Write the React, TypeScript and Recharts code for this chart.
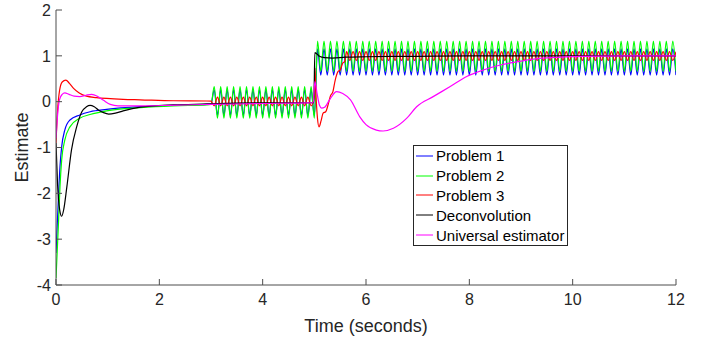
import { Legend, Line, LineChart, XAxis, YAxis } from 'recharts';

const xTicks = [0, 2, 4, 6, 8, 10, 12];
const yTicks = [-4, -3, -2, -1, 0, 1, 2];

const seriesNames = ['Problem 1', 'Problem 2', 'Problem 3', 'Deconvolution', 'Universal estimator'];
const seriesColors = ['#0000ff', '#00ff00', '#ff0000', '#000000', '#ff00ff'];

// start-up transient of Problem 1 / Problem 2 (t in seconds)
const earlyT = [0, 0.045, 0.077, 0.11, 0.17, 0.27, 0.46, 0.66, 0.98, 1.63, 2.27, 2.92, 3.0];
const problem1Early = [-3.3, -2.15, -1.42, -0.98, -0.62, -0.4, -0.29, -0.22, -0.17, -0.11, -0.08, -0.06, -0.05];
const problem2Early = [-3.85, -2.73, -1.86, -1.27, -0.84, -0.55, -0.36, -0.28, -0.2, -0.13, -0.09, -0.07, -0.06];

// peaks / troughs of the 8 Hz ripple, read every half period
const oscT = [
  3.0625, 3.125, 3.1875, 3.25, 3.3125, 3.375, 3.4375, 3.5, 3.5625, 3.625, 3.6875, 3.75, 3.8125, 3.875, 3.9375, 4,
  4.0625, 4.125, 4.1875, 4.25, 4.3125, 4.375, 4.4375, 4.5, 4.5625, 4.625, 4.6875, 4.75, 4.8125, 4.875, 4.9375, 5,
  5.0625, 5.125, 5.1875, 5.25, 5.3125, 5.375, 5.4375, 5.5, 5.5625, 5.625, 5.6875, 5.75, 5.8125, 5.875, 5.9375, 6,
  6.0625, 6.125, 6.1875, 6.25, 6.3125, 6.375, 6.4375, 6.5, 6.5625, 6.625, 6.6875, 6.75, 6.8125, 6.875, 6.9375, 7,
  7.0625, 7.125, 7.1875, 7.25, 7.3125, 7.375, 7.4375, 7.5, 7.5625, 7.625, 7.6875, 7.75, 7.8125, 7.875, 7.9375, 8,
  8.0625, 8.125, 8.1875, 8.25, 8.3125, 8.375, 8.4375, 8.5, 8.5625, 8.625, 8.6875, 8.75, 8.8125, 8.875, 8.9375, 9,
  9.0625, 9.125, 9.1875, 9.25, 9.3125, 9.375, 9.4375, 9.5, 9.5625, 9.625, 9.6875, 9.75, 9.8125, 9.875, 9.9375, 10,
  10.0625, 10.125, 10.1875, 10.25, 10.3125, 10.375, 10.4375, 10.5, 10.5625, 10.625, 10.6875, 10.75, 10.8125, 10.875, 10.9375, 11,
  11.0625, 11.125, 11.1875, 11.25, 11.3125, 11.375, 11.4375, 11.5, 11.5625, 11.625, 11.6875, 11.75, 11.8125, 11.875, 11.9375, 12,
];

const problem1Osc = [
  0.26, -0.3, 0.26, -0.3, 0.26, -0.3, 0.26, -0.3, 0.26, -0.3, 0.26, -0.3, 0.26, -0.3, 0.26, -0.3,
  0.26, -0.3, 0.26, -0.3, 0.26, -0.3, 0.26, -0.3, 0.26, -0.3, 0.26, -0.3, 0.26, -0.3, 0.26, -0.3,
  1.15, 0.58, 1.15, 0.58, 1.15, 0.58, 1.15, 0.58, 1.15, 0.58, 1.15, 0.58, 1.15, 0.58, 1.15, 0.58,
  1.15, 0.58, 1.15, 0.58, 1.15, 0.58, 1.15, 0.58, 1.15, 0.58, 1.15, 0.58, 1.15, 0.58, 1.15, 0.58,
  1.15, 0.58, 1.15, 0.58, 1.15, 0.58, 1.15, 0.58, 1.15, 0.58, 1.15, 0.58, 1.15, 0.58, 1.15, 0.58,
  1.15, 0.58, 1.15, 0.58, 1.15, 0.58, 1.15, 0.58, 1.15, 0.58, 1.15, 0.58, 1.15, 0.58, 1.15, 0.58,
  1.15, 0.58, 1.15, 0.58, 1.15, 0.58, 1.15, 0.58, 1.15, 0.58, 1.15, 0.58, 1.15, 0.58, 1.15, 0.58,
  1.15, 0.58, 1.15, 0.58, 1.15, 0.58, 1.15, 0.58, 1.15, 0.58, 1.15, 0.58, 1.15, 0.58, 1.15, 0.58,
  1.15, 0.58, 1.15, 0.58, 1.15, 0.58, 1.15, 0.58, 1.15, 0.58, 1.15, 0.58, 1.15, 0.58, 1.15, 0.58,
];

const problem2Osc = [
  0.33, -0.36, 0.33, -0.36, 0.33, -0.36, 0.33, -0.36, 0.33, -0.36, 0.33, -0.36, 0.33, -0.36, 0.33, -0.36,
  0.33, -0.36, 0.33, -0.36, 0.33, -0.36, 0.33, -0.36, 0.33, -0.36, 0.33, -0.36, 0.33, -0.36, 0.33, -0.36,
  1.32, 0.66, 1.32, 0.66, 1.32, 0.66, 1.32, 0.66, 1.32, 0.66, 1.32, 0.66, 1.32, 0.66, 1.32, 0.66,
  1.32, 0.66, 1.32, 0.66, 1.32, 0.66, 1.32, 0.66, 1.32, 0.66, 1.32, 0.66, 1.32, 0.66, 1.32, 0.66,
  1.32, 0.66, 1.32, 0.66, 1.32, 0.66, 1.32, 0.66, 1.32, 0.66, 1.32, 0.66, 1.32, 0.66, 1.32, 0.66,
  1.32, 0.66, 1.32, 0.66, 1.32, 0.66, 1.32, 0.66, 1.32, 0.66, 1.32, 0.66, 1.32, 0.66, 1.32, 0.66,
  1.32, 0.66, 1.32, 0.66, 1.32, 0.66, 1.32, 0.66, 1.32, 0.66, 1.32, 0.66, 1.32, 0.66, 1.32, 0.66,
  1.32, 0.66, 1.32, 0.66, 1.32, 0.66, 1.32, 0.66, 1.32, 0.66, 1.32, 0.66, 1.32, 0.66, 1.32, 0.66,
  1.32, 0.66, 1.32, 0.66, 1.32, 0.66, 1.32, 0.66, 1.32, 0.66, 1.32, 0.66, 1.32, 0.66, 1.32, 0.66,
];

// Problem 3
const problem3EarlyT = [0, 0.03, 0.07, 0.12, 0.19, 0.26, 0.34, 0.45, 0.59, 0.78, 0.98, 1.3, 1.63, 2.27, 2.92, 3.0];
const problem3Early = [-0.9, -0.2, 0.25, 0.43, 0.47, 0.4, 0.29, 0.19, 0.12, 0.09, 0.07, 0.05, 0.04, 0.02, 0.015, 0.01];
// ripple between 3 s and 5 s (oscT 3.0625 .. 5)
const problem3Osc1 = [
  -0.09, 0.1, -0.09, 0.1, -0.09, 0.1, -0.09, 0.1, -0.09, 0.1, -0.09, 0.1, -0.09, 0.1, -0.09, 0.1,
  -0.09, 0.1, -0.09, 0.1, -0.09, 0.1, -0.09, 0.1, -0.09, 0.1, -0.09, 0.1, -0.09, 0.1, -0.09, 0.1,
];
const problem3StepT = [5.012, 5.03, 5.06, 5.09, 5.13, 5.17, 5.22, 5.27, 5.31, 5.36, 5.4, 5.46, 5.5, 5.55, 5.59];
const problem3Step = [0.73, 0.2, -0.35, -0.55, -0.42, -0.25, -0.22, -0.05, 0.12, 0.22, 0.45, 0.66, 0.69, 0.84, 0.88];
// ripple from 5.625 s to the end (oscT 5.625 .. 12)
const problem3Osc2 = [
  1.09, 0.9, 1.09, 0.9, 1.09, 0.9, 1.09,
  0.9, 1.09, 0.9, 1.09, 0.9, 1.09, 0.9, 1.09, 0.9, 1.09, 0.9, 1.09, 0.9, 1.09, 0.9, 1.09,
  0.9, 1.09, 0.9, 1.09, 0.9, 1.09, 0.9, 1.09, 0.9, 1.09, 0.9, 1.09, 0.9, 1.09, 0.9, 1.09,
  0.9, 1.09, 0.9, 1.09, 0.9, 1.09, 0.9, 1.09, 0.9, 1.09, 0.9, 1.09, 0.9, 1.09, 0.9, 1.09,
  0.9, 1.09, 0.9, 1.09, 0.9, 1.09, 0.9, 1.09, 0.9, 1.09, 0.9, 1.09, 0.9, 1.09, 0.9, 1.09,
  0.9, 1.09, 0.9, 1.09, 0.9, 1.09, 0.9, 1.09, 0.9, 1.09, 0.9, 1.09, 0.9, 1.09, 0.9, 1.09,
  0.9, 1.09, 0.9, 1.09, 0.9, 1.09, 0.9, 1.09, 0.9, 1.09, 0.9, 1.09, 0.9, 1.09, 0.9, 1.09,
];

// Deconvolution
const deconvT = [
  0, 0.03, 0.07, 0.11, 0.15, 0.21, 0.3, 0.4, 0.5, 0.59, 0.66, 0.74, 0.82, 0.92, 1.02, 1.15,
  1.3, 1.63, 2.27, 2.92, 3.5, 4.99, 5.01, 5.05, 5.1, 5.2, 5.35, 5.6, 6, 7, 8, 12,
];
const deconvV = [
  -0.9, -1.8, -2.35, -2.5, -2.35, -1.86, -1.05, -0.55, -0.22, -0.11, -0.08, -0.11, -0.18, -0.24, -0.27, -0.25,
  -0.2, -0.12, -0.07, -0.05, -0.03, -0.02, 1.07, 1.04, 0.99, 0.96, 0.95, 0.97, 0.98, 0.99, 1.0, 1.0,
];

// Universal estimator
const universalT = [
  0, 0.03, 0.07, 0.12, 0.17, 0.25, 0.35, 0.46, 0.58, 0.69, 0.8, 0.92, 1.05, 1.2, 1.6, 2.2,
  3.0, 4.0, 4.98, 5.01, 5.05, 5.1, 5.14, 5.2, 5.3, 5.43, 5.55, 5.7, 5.88, 6.0, 6.2, 6.33,
  6.53, 6.79, 6.98, 7.3, 7.63, 7.95, 8.27, 8.6, 8.92, 9.24, 9.56, 10.2, 11, 12,
];
const universalV = [
  -0.8, -0.3, 0.05, 0.16, 0.19, 0.16, 0.12, 0.11, 0.14, 0.16, 0.12, 0.03, -0.06, -0.09, -0.09, -0.08,
  -0.06, -0.04, -0.02, 0.44, 0.2, -0.08, -0.14, -0.12, 0.05, 0.22, 0.18, 0.04, -0.33, -0.5, -0.62, -0.64,
  -0.58, -0.36, -0.11, 0.11, 0.33, 0.55, 0.69, 0.8, 0.87, 0.93, 0.96, 0.99, 1.0, 1.0,
];

const toPoints = (ts: number[], vs: number[]) => ts.map((t, i) => ({ t, v: vs[i] }));

const problem1Data = [...toPoints(earlyT, problem1Early), ...toPoints(oscT, problem1Osc)];
const problem2Data = [...toPoints(earlyT, problem2Early), ...toPoints(oscT, problem2Osc)];
const problem3Data = [
  ...toPoints(problem3EarlyT, problem3Early),
  ...toPoints(oscT.slice(0, 32), problem3Osc1),
  ...toPoints(problem3StepT, problem3Step),
  ...toPoints(oscT.slice(41), problem3Osc2),
];
const deconvData = toPoints(deconvT, deconvV);
const universalData = toPoints(universalT, universalV);

const allSeries = [problem1Data, problem2Data, problem3Data, deconvData, universalData];

const font = '"Liberation Sans", Arial, sans-serif';
const axisColor = '#4d4d4d';

const LegendBox = () => (
  <div
    style={{
      border: '1px solid #262626',
      background: '#fff',
      width: 153,
      fontFamily: font,
      fontSize: 15,
      color: '#000',
    }}
  >
    {seriesNames.map((name, i) => (
      <div key={name} style={{ display: 'flex', alignItems: 'center', height: 19.8 }}>
        <svg width={22} height={10} style={{ flex: 'none' }}>
          <line x1={2} x2={19} y1={5} y2={5} stroke={seriesColors[i]} strokeWidth={1} />
        </svg>
        <span style={{ whiteSpace: 'nowrap', lineHeight: '19px' }}>{name}</span>
      </div>
    ))}
  </div>
);

export default function App() {
  return (
    <div style={{ position: 'absolute', left: 0, top: 0, background: '#fff' }}>
      <LineChart
        width={710}
        height={343}
        margin={{ top: 10, right: 34, bottom: 0, left: 0 }}
        style={{ fontFamily: font }}
      >
        <XAxis
          dataKey='t'
          type='number'
          domain={[0, 12]}
          ticks={xTicks}
          allowDataOverflow
          height={58}
          tickSize={-6}
          tickMargin={15}
          stroke={axisColor}
          tick={{ fill: '#262626', fontSize: 16 }}
          label={{ value: 'Time (seconds)', position: 'insideBottom', offset: 11, fill: '#262626', fontSize: 18 }}
        />
        <XAxis
          xAxisId='top'
          orientation='top'
          type='number'
          domain={[0, 12]}
          ticks={xTicks}
          allowDataOverflow
          height={0}
          tickSize={-6}
          stroke={axisColor}
          tick={false}
        />
        <YAxis
          type='number'
          domain={[-4, 2]}
          ticks={yTicks}
          allowDataOverflow
          width={56}
          tickSize={-6}
          tickMargin={11}
          stroke={axisColor}
          tick={{ fill: '#262626', fontSize: 16 }}
          label={{
            value: 'Estimate',
            angle: -90,
            position: 'insideLeft',
            offset: 22,
            fill: '#262626',
            fontSize: 18,
            style: { textAnchor: 'middle' },
          }}
        />
        <YAxis
          yAxisId='right'
          orientation='right'
          type='number'
          domain={[-4, 2]}
          ticks={yTicks}
          allowDataOverflow
          width={0}
          tickSize={-6}
          stroke={axisColor}
          tick={false}
        />

        {allSeries.map((data, i) => (
          <Line
            key={seriesNames[i]}
            data={data}
            dataKey='v'
            name={seriesNames[i]}
            type='monotone'
            stroke={seriesColors[i]}
            strokeWidth={1.2}
            dot={false}
            isAnimationActive={false}
          />
        ))}

        <Legend
          layout='vertical'
          align='center'
          verticalAlign='middle'
          content={() => <LegendBox />}
          wrapperStyle={{ left: 413, top: 145, width: 155, height: 101 }}
        />
      </LineChart>
    </div>
  );
}
